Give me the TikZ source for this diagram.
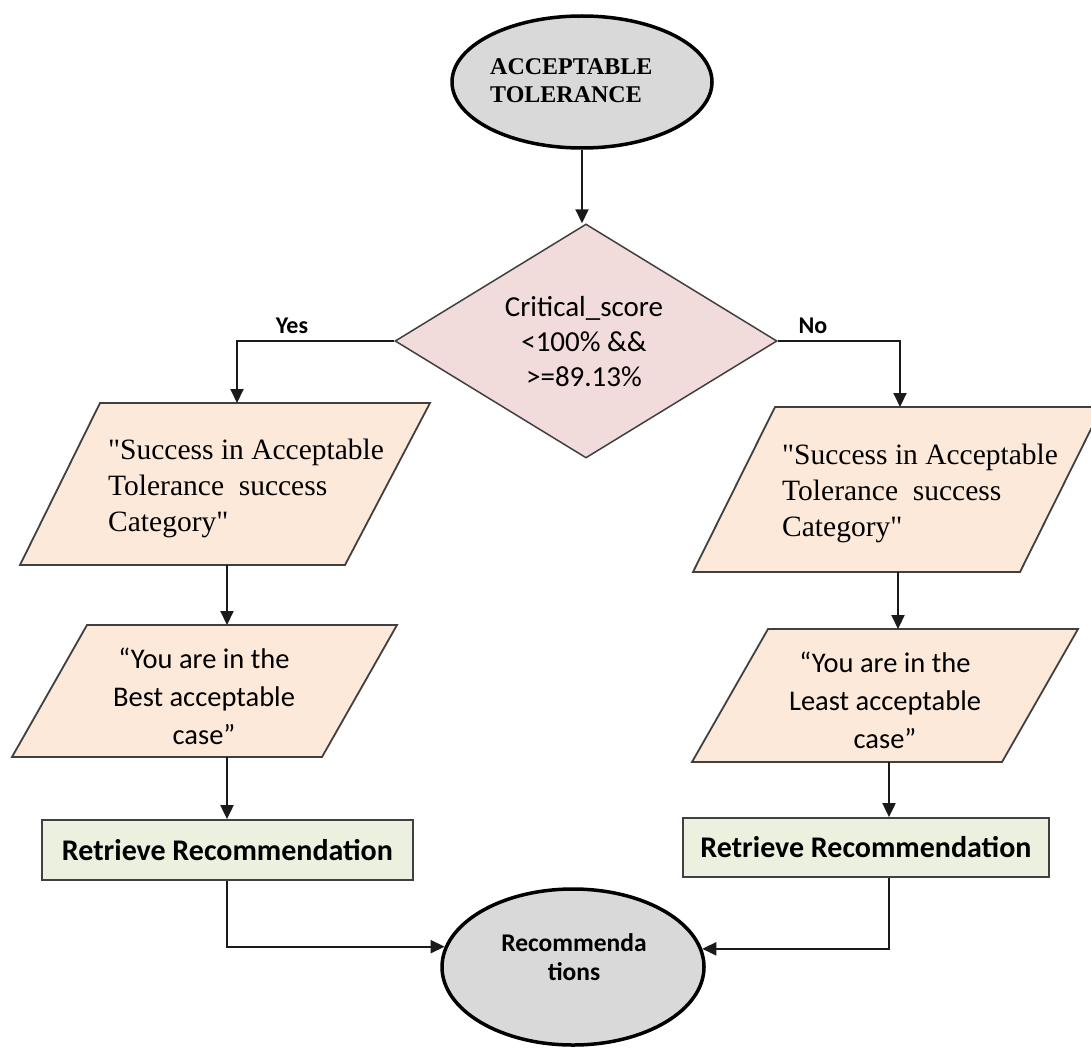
\documentclass[tikz,border=0pt]{standalone}
\usepackage{fontspec}
\setmainfont{Liberation Serif}
\newfontfamily\calib{Carlito}
\usetikzlibrary{shapes.geometric,arrows.meta}
\definecolor{ovalfill}{HTML}{D9D9D9}
\definecolor{decfill}{HTML}{F2DCDB}
\definecolor{iofill}{HTML}{FDE9D9}
\definecolor{procfill}{HTML}{EBF1DE}
\definecolor{edgegray}{HTML}{404040}
\definecolor{ink}{HTML}{1A1A1A}
\tikzset{
  terminal/.style={ellipse, draw=black, line width=3.5pt, fill=ovalfill, inner sep=0pt},
  decision/.style={diamond, draw=edgegray, line width=1.5pt, fill=decfill, inner sep=0pt, aspect=1.63},
  iobox/.style={draw=edgegray, line width=1.8pt, fill=iofill, line join=miter},
  procbox/.style={rectangle, draw=edgegray, line width=1.8pt, fill=procfill, inner sep=0pt},
  serifbig/.style={font=\fontsize{29.5}{36}\selectfont, text=black, inner sep=0pt},
  sansbig/.style={font=\calib\fontsize{28.5}{38}\selectfont, text=black, inner sep=0pt},
  proctext/.style={font=\calib\bfseries\fontsize{30}{34}\selectfont, text=black},
  arr/.style={draw=ink, line width=2pt, -{Triangle[width=13pt,length=14pt]}},
  branch/.style={font=\calib\bfseries\fontsize{24}{28}\selectfont, text=black, inner sep=0pt}
}
\begin{document}
\begin{tikzpicture}[x=1pt, y=-1pt]
\useasboundingbox (0,0) rectangle (1091,1051);

% start / end terminals
\node[terminal, minimum width=260pt, minimum height=132pt] (start) at (582,82) {};
\node[anchor=west, align=left, font=\bfseries\fontsize{24}{28}\selectfont, inner sep=0pt] (starttxt) at (490,81) {ACCEPTABLE\\TOLERANCE};

\node[terminal, minimum width=262pt, minimum height=156pt] (finish) at (573,967) {};
\node[align=center, font=\calib\bfseries\fontsize{25.5}{29}\selectfont, inner sep=0pt] (finishtxt) at (574,957) {Recommenda\\tions};

% decision
\node[decision, minimum width=382pt, minimum height=234pt] (dec) at (586,341) {};
\node[sansbig, align=center, font=\calib\fontsize{29}{35}\selectfont] (dectxt) at (584,342) {Critical\_score\\<100\% \&\&\\>=89.13\%};

% input/output parallelograms, left branch
\path[iobox] (100,403) -- (430,403) -- (345,565) -- (20,565) -- cycle;
\node[serifbig, anchor=west, align=left] (msgL) at (108,488) {\textquotedbl Success in Acceptable\\Tolerance\ \ success\\Category\textquotedbl};
\path[iobox] (87,625) -- (397,625) -- (322,757) -- (12,757) -- cycle;
\node[sansbig, align=center] (caseL) at (204,696) {“You are in the\\Best acceptable\\case”};

% input/output parallelograms, right branch
\path[iobox] (775,407) -- (1102,407) -- (1020,572) -- (693,572) -- cycle;
\node[serifbig, anchor=west, align=left] (msgR) at (782,493) {\textquotedbl Success in Acceptable\\Tolerance\ \ success\\Category\textquotedbl};
\path[iobox] (768,629) -- (1078,629) -- (1002,762) -- (692,762) -- cycle;
\node[sansbig, align=center] (caseR) at (885,700) {“You are in the\\Least acceptable\\case”};

% connector end points on the parallelograms
\coordinate (msgLtop) at (237,403);
\coordinate (msgLbot) at (227,565);
\coordinate (caseLtop) at (227,625);
\coordinate (caseLbot) at (227,757);
\coordinate (msgRtop) at (900,407);
\coordinate (msgRbot) at (898,572);
\coordinate (caseRtop) at (898,629);
\coordinate (caseRbot) at (889,762);

% process boxes
\node[procbox, proctext, minimum width=371pt, minimum height=60pt] (retL) at (227.5,850) {Retrieve Recommendation};
\node[procbox, proctext, minimum width=366pt, minimum height=59pt] (retR) at (866,847.5) {Retrieve Recommendation};

% connectors
\draw[arr] (start.south) -- (start.south |- dec.north);
\draw[arr] (dec.west) -| (msgLtop);
\draw[arr] (dec.east) -| (msgRtop);
\node[branch] (yes) at (292,326) {Yes};
\node[branch] (no) at (813,326) {No};
\draw[arr] (msgLbot) -- (caseLtop);
\draw[arr] (msgRbot) -- (caseRtop);
\draw[arr] (caseLbot) -- (caseLbot |- retL.north);
\draw[arr] (caseRbot) -- (caseRbot |- retR.north);
\draw[arr] (retL.south -| caseLbot) |- (finish.171);
\draw[arr] (retR.south -| caseRbot) |- (finish.8);
\end{tikzpicture}
\end{document}
